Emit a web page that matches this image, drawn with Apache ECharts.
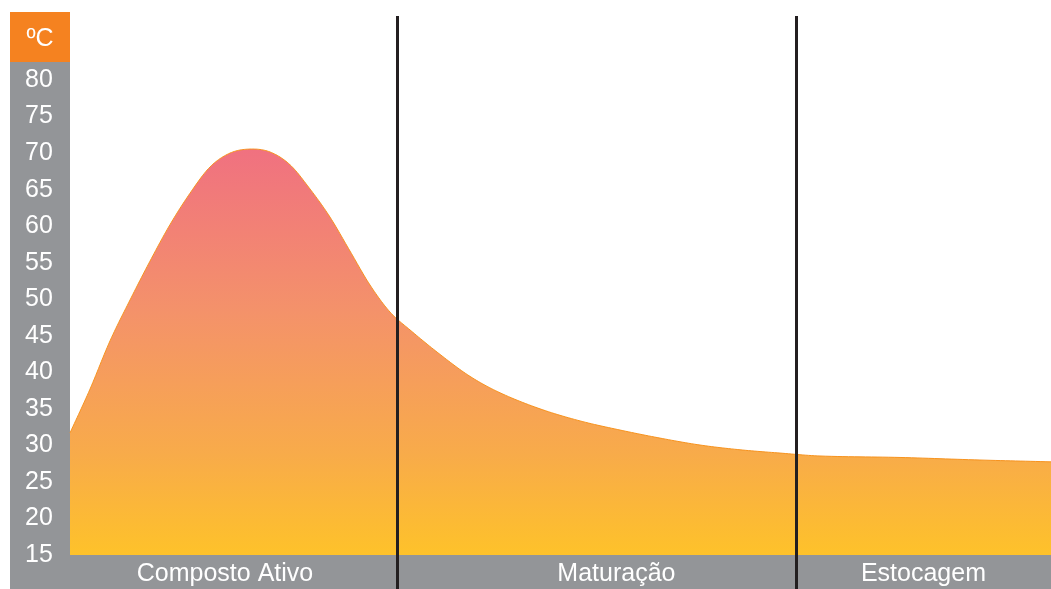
<!DOCTYPE html>
<html>
<head>
<meta charset="utf-8">
<title>Temperatura da compostagem</title>
<script src="https://cdn.jsdelivr.net/npm/echarts@6/dist/echarts.min.js"></script>
<style>
  html, body { margin: 0; padding: 0; background: #ffffff; }
  #chart { width: 1051px; height: 589px; }
</style>
</head>
<body>
<div id="chart"></div>
<script>
// Time runs 0–100 across the process; temperature in ºC
const timeAxis = [0, 2.04, 4.08, 6.12, 8.15, 10.19, 12.23, 14.27, 16.31, 18.35, 20.39, 22.43,
  24.46, 26.50, 28.54, 30.58, 32.62, 34.66, 37.72, 40.77, 43.83, 47.91, 51.99, 56.07, 60.14,
  64.22, 68.30, 72.38, 76.45, 84.61, 92.76, 100];
const temperature = [31.7, 37.7, 44.3, 49.9, 55.2, 60.2, 64.5, 68.1, 70.0, 70.55, 70.15, 68.4,
  65.1, 61.25, 56.6, 51.95, 48.25, 45.8, 42.45, 39.45, 37.2, 35.0, 33.35, 32.1, 31.0,
  30.05, 29.4, 28.95, 28.55, 28.35, 28.0, 27.75];

// Phases of the process and where each one ends
const phaseNames = ['Composto Ativo', 'Maturação', 'Estocagem'];
const phaseEnds = [33.33, 74.0, 100];
const phaseLabelAt = [15.8, 55.7, 87.0];

const tempTicks = [15, 20, 25, 30, 35, 40, 45, 50, 55, 60, 65, 70, 75, 80];
const unitLabel = 'ºC';

const GRAY = '#939598';
const ORANGE = '#F58220';
const FONT = '"Liberation Sans", Arial, sans-serif';

const chart = echarts.init(document.getElementById('chart'), null, { renderer: 'canvas' });

const points = timeAxis.map((t, i) => [t, temperature[i]]);
const baseTemp = tempTicks[0];

// Smooth temperature curve: cubic Hermite through the projected data points
function renderCurve(params, api) {
  if (params.dataIndex !== 0) return null;
  const P = points.map(p => api.coord(p));
  const n = P.length;
  const slope = P.map((p, i) => {
    const a = P[Math.max(i - 1, 0)];
    const b = P[Math.min(i + 1, n - 1)];
    return (b[1] - a[1]) / (b[0] - a[0]);
  });
  const curve = [];
  const STEPS = 14;
  for (let i = 0; i < n - 1; i++) {
    const h = P[i + 1][0] - P[i][0];
    for (let k = 0; k < STEPS; k++) {
      const s = k / STEPS, s2 = s * s, s3 = s2 * s;
      const y = (2 * s3 - 3 * s2 + 1) * P[i][1] + (s3 - 2 * s2 + s) * h * slope[i]
        + (-2 * s3 + 3 * s2) * P[i + 1][1] + (s3 - s2) * h * slope[i + 1];
      curve.push([P[i][0] + s * h, y]);
    }
  }
  curve.push(P[n - 1]);
  const base0 = api.coord([timeAxis[0], baseTemp]);
  const baseN = api.coord([timeAxis[n - 1], baseTemp]);
  return {
    type: 'group',
    children: [
      {
        type: 'polygon',
        shape: { points: curve.concat([baseN, base0]) },
        style: {
          fill: new echarts.graphic.LinearGradient(0, 0, 0, 1, [
            { offset: 0, color: '#F07180' },
            { offset: 0.4, color: '#F4926A' },
            { offset: 0.75, color: '#F8AB4A' },
            { offset: 1, color: '#FEC22A' }
          ])
        }
      },
      {
        type: 'polyline',
        shape: { points: curve },
        style: { stroke: '#F7931E', lineWidth: 1, fill: null }
      }
    ]
  };
}

chart.setOption({
  animation: false,
  backgroundColor: '#ffffff',
  grid: { left: 70, right: 0, top: 16, bottom: 0, containLabel: false },
  graphic: [
    { type: 'rect', z: 0, shape: { x: 10, y: 62, width: 60, height: 527 }, style: { fill: GRAY } },
    { type: 'rect', z: 0, shape: { x: 70, y: 555, width: 981, height: 34 }, style: { fill: GRAY } },
    { type: 'rect', z: 0, shape: { x: 10, y: 12, width: 60, height: 50 }, style: { fill: ORANGE } },
    {
      type: 'text', z: 5, x: 40, y: 39,
      style: { text: unitLabel, fill: '#ffffff', font: '25px ' + FONT, align: 'center', verticalAlign: 'middle' }
    }
  ],
  xAxis: {
    type: 'value',
    min: 0,
    max: 100,
    axisLine: { show: false },
    axisTick: { show: false },
    splitLine: { show: false },
    axisLabel: {
      inside: true,
      margin: 2,
      customValues: phaseLabelAt,
      color: '#ffffff',
      fontFamily: FONT,
      fontSize: 25,
      formatter: (v) => {
        const i = phaseLabelAt.findIndex(p => Math.abs(p - v) < 1e-6);
        return i >= 0 ? phaseNames[i] : '';
      }
    }
  },
  yAxis: {
    type: 'value',
    min: 10.35,
    max: 88.76,
    axisLine: { show: false },
    axisTick: { show: false, customValues: tempTicks },
    splitLine: { show: false },
    axisLabel: {
      customValues: tempTicks,
      margin: 31,
      align: 'center',
      color: '#ffffff',
      fontFamily: FONT,
      fontSize: 25
    }
  },
  series: [{
    type: 'custom',
    renderItem: renderCurve,
    data: points,
    encode: { x: 0, y: 1 },
    z: 3,
    markLine: {
      silent: true,
      symbol: 'none',
      label: { show: false },
      lineStyle: { color: '#231F20', width: 3, type: 'solid' },
      data: phaseEnds.slice(0, -1).map(x => ({ xAxis: x }))
    }
  }]
});
</script>
</body>
</html>
